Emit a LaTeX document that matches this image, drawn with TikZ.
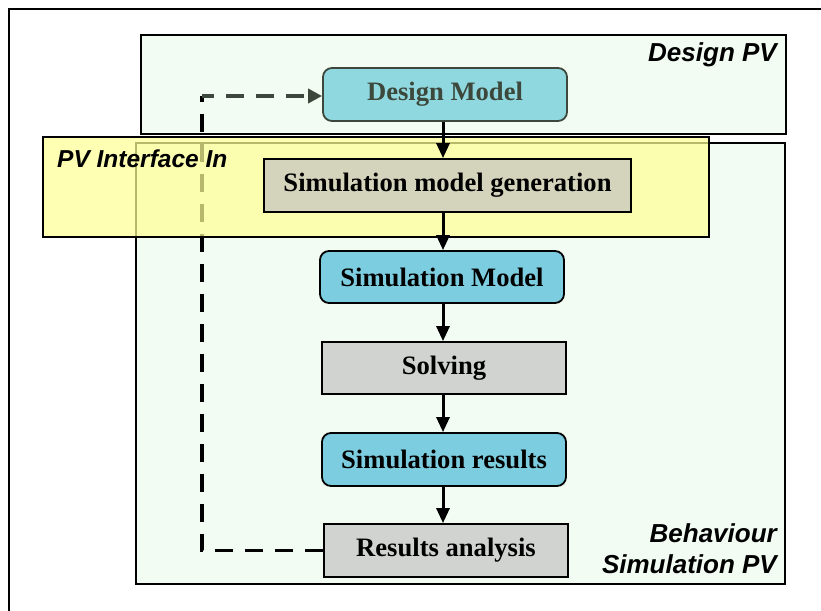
\documentclass[tikz,border=0pt]{standalone}
\usepackage{fontspec}
\setmainfont{Liberation Serif}
\newfontfamily\labelfont{Liberation Sans}
\usetikzlibrary{arrows.meta}

\definecolor{pvgreen}{RGB}{242,252,242}
\definecolor{pvyellow}{RGB}{255,255,150}
\definecolor{modelblue}{RGB}{124,205,224}
\definecolor{designblue}{RGB}{144,216,224}
\definecolor{designink}{RGB}{60,72,60}
\definecolor{stepgray}{RGB}{208,211,208}
\definecolor{genkhaki}{RGB}{212,212,188}

\tikzset{
  pvframe/.style={draw=black, line width=2pt, fill=pvgreen},
  pvlabel/.style={inner sep=0pt, font=\labelfont\bfseries\itshape\fontsize{26}{31}\selectfont},
  modelbox/.style={draw=black, line width=1.8pt, rounded corners=9pt, fill=modelblue,
    inner sep=0pt, font=\bfseries\fontsize{26.6}{30}\selectfont},
  stepbox/.style={draw=black, line width=1.8pt, fill=stepgray,
    inner sep=0pt, font=\bfseries\fontsize{26.6}{30}\selectfont},
  flow/.style={line width=3pt, -{Triangle[length=15pt,width=13pt]}},
  feedback/.style={line width=3.5pt, dash pattern=on 18pt off 12pt},
}

\begin{document}
\begin{tikzpicture}[x=1pt, y=-1pt]
  \useasboundingbox (0,0) rectangle (821,610);
  \clip (0,0) rectangle (821,610);

  % outer frame, running past the page edges on the right and bottom
  \draw[line width=2.2pt] (9,9) rectangle (860,650);

  % viewpoint areas
  \draw[pvframe] (141,35) rectangle (786,134);
  \draw[pvframe] (136,143) rectangle (785,584);

  % process steps
  \node[modelbox, fill=designblue, draw=designink, text=designink,
        minimum width=244pt, minimum height=53pt] (dm) at (445,94.5) {Design Model};
  \node[stepbox, fill=genkhaki, minimum width=367pt, minimum height=53pt] (gen) at (447.5,185.5) {Simulation model generation};
  \node[modelbox, minimum width=244pt, minimum height=52pt] (sm) at (442,277) {Simulation Model};
  \node[stepbox, minimum width=244pt, minimum height=52pt] (solve) at (444,368) {Solving};
  \node[modelbox, minimum width=244pt, minimum height=53pt] (sr) at (444,459.5) {Simulation results};
  \node[stepbox, minimum width=244pt, minimum height=53pt] (ra) at (446,550.5) {Results analysis};

  % feedback loop from the analysis back to the design model
  \coordinate (loop) at (202,96);
  \draw[feedback, black] (ra.west) -| (loop);
  \draw[feedback, designink, dash phase=6pt, -{Triangle[length=14pt,width=14pt]}]
    (loop) -- (loop -| dm.west);

  % interface viewpoint, laid over the others
  \fill[pvyellow, fill opacity=0.72] (43,137) rectangle (709,237);
  \draw[line width=2pt] (43,137) rectangle (709,237);

  % redraw the generation step above the overlay
  \node[stepbox, fill=genkhaki, minimum width=367pt, minimum height=53pt] at (gen) {Simulation model generation};

  % viewpoint labels
  \node[pvlabel, anchor=base east] (lbldesign) at (777,62) {Design PV};
  \node[pvlabel, anchor=base west, font=\labelfont\bfseries\itshape\fontsize{24.5}{29}\selectfont] (lblif) at (57,167) {PV Interface In};
  \node[pvlabel, anchor=north east, align=right] (lblbeh) at (777,523) {Behaviour\\Simulation PV};

  % main flow
  \draw[flow] (dm.south -| 443,0) -- (gen.north -| 443,0);
  \draw[flow] (gen.south -| 443,0) -- (sm.north -| 443,0);
  \draw[flow] (sm.south -| 443,0) -- (solve.north -| 443,0);
  \draw[flow] (solve.south -| 443,0) -- (sr.north -| 443,0);
  \draw[flow] (sr.south -| 443,0) -- (ra.north -| 443,0);
\end{tikzpicture}
\end{document}
